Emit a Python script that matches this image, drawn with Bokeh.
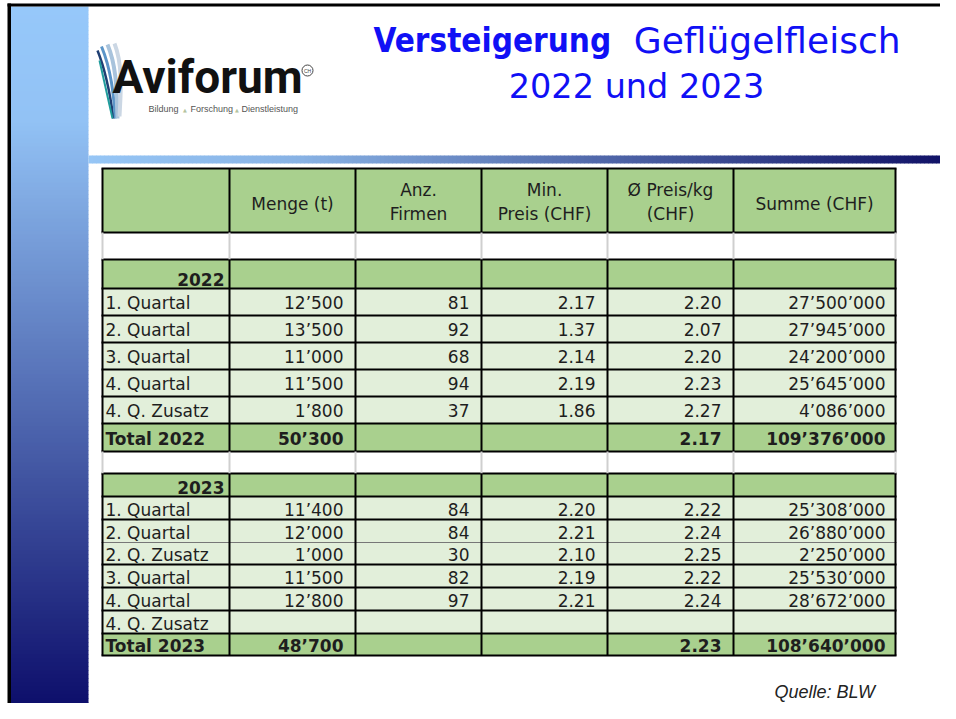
from bokeh.plotting import figure
from bokeh.models import Range1d, ColumnDataSource
from bokeh.embed import file_html
from bokeh.resources import INLINE
from bokeh.core.properties import value

# ---------------- data ----------------
title_bold = "Versteigerung"
title_rest = "Geflügelfleisch"
title_line2 = "2022 und 2023"
logo_name = "Aviforum"
logo_words = ["Bildung", "Forschung", "Dienstleistung"]
source_note = "Quelle: BLW"

col_headers = [[""], ["Menge (t)"], ["Anz.", "Firmen"], ["Min.", "Preis (CHF)"],
               ["Ø Preis/kg", "(CHF)"], ["Summe (CHF)"]]

year_2022 = "2022"
labels_2022 = ["1. Quartal", "2. Quartal", "3. Quartal", "4. Quartal", "4. Q. Zusatz"]
menge_2022 = [12500, 13500, 11000, 11500, 1800]
firmen_2022 = [81, 92, 68, 94, 37]
minpreis_2022 = [2.17, 1.37, 2.14, 2.19, 1.86]
preis_2022 = [2.20, 2.07, 2.20, 2.23, 2.27]
summe_2022 = [27500000, 27945000, 24200000, 25645000, 4086000]
total_label_2022 = "Total 2022"
total_menge_2022 = 50300
total_preis_2022 = 2.17
total_summe_2022 = 109376000

year_2023 = "2023"
labels_2023 = ["1. Quartal", "2. Quartal", "2. Q. Zusatz", "3. Quartal", "4. Quartal", "4. Q. Zusatz"]
menge_2023 = [11400, 12000, 1000, 11500, 12800, None]
firmen_2023 = [84, 84, 30, 82, 97, None]
minpreis_2023 = [2.20, 2.21, 2.10, 2.19, 2.21, None]
preis_2023 = [2.22, 2.24, 2.25, 2.22, 2.24, None]
summe_2023 = [25308000, 26880000, 2250000, 25530000, 28672000, None]
total_label_2023 = "Total 2023"
total_menge_2023 = 48700
total_preis_2023 = 2.23
total_summe_2023 = 108640000

# ---------------- layout (pixel space of the slide) ----------------
COL_X = [102, 229, 355, 481, 607, 733, 895]
HEADER = (168, 232)
BLANK1 = (232, 259)
Y22_HEAD = (259, 288)
ROWS22 = [288, 315, 342, 369, 396, 423, 451]
BLANK2 = (451, 473)
Y23_HEAD = (473, 496)
ROWS23 = [496, 519, 542, 564, 587, 610, 633, 655]

GREEN = "#A9D08E"
LIGHT = "#E2EFDA"
TXT = "#1e1e1e"
BLUE = "#1010F5"
FONT = value("DejaVu Sans")


def fint(v):
    return "" if v is None else f"{v:,}".replace(",", "\u2019")


def fdec(v):
    return "" if v is None else f"{v:.2f}"


p = figure(width=940, height=703, x_range=Range1d(0, 940), y_range=Range1d(703, 0),
           output_backend="svg", toolbar_location=None,
           x_axis_location=None, y_axis_location=None, min_border=0)
p.grid.visible = False
p.outline_line_color = None
p.background_fill_color = "white"
p.border_fill_color = "white"


def lerp(stops, t):
    for (t0, c0), (t1, c1) in zip(stops, stops[1:]):
        if t <= t1:
            f = 0 if t1 == t0 else max(0.0, (t - t0) / (t1 - t0))
            c = [round(a + (b - a) * f) for a, b in zip(c0, c1)]
            return "#%02x%02x%02x" % tuple(c)
    return "#%02x%02x%02x" % tuple(stops[-1][1])


# left sidebar gradient
side_stops = [(6, (150, 200, 250)), (120, (146, 194, 245)), (719, (10, 10, 104))]
sy = list(range(6, 704, 4))
p.quad(left=10, right=88, top=sy, bottom=[y + 4.5 for y in sy],
       fill_color=[lerp(side_stops, y + 2) for y in sy], line_color=None)
p.quad(left=7, right=10.5, top=3, bottom=703, fill_color="black", line_color=None)
p.quad(left=7, right=940, top=3, bottom=6, fill_color="black", line_color=None)

# horizontal bar gradient
bar_stops = [(88, (150, 198, 246)), (300, (136, 178, 228)), (956, (14, 14, 100))]
bx = list(range(88, 940, 4))
p.quad(left=bx, right=[x + 4.5 for x in bx], top=155, bottom=163,
       fill_color=[lerp(bar_stops, x + 2) for x in bx], line_color=None)

# ---------------- logo ----------------
p.bezier(x0=[97, 101, 107, 114, 99], y0=[50, 46, 44, 43, 60],
         x1=[113, 115, 117, 119, 112], y1=[118, 118, 118, 116, 118],
         cx0=[106, 111, 117, 123, 104], cy0=[72, 70, 68, 66, 82],
         cx1=[110, 113, 116, 120, 108], cy1=[96, 95, 95, 95, 100],
         line_color=["#1f3f73", "#5b95c8", "#a8c3dc", "#cbd7e4", "#1f9c9c"],
         line_width=[2.5, 3, 4, 4, 2])
p.text(x=[112], y=[76], text=[logo_name], text_font=value("Roboto"),
       text_font_style="bold", text_font_size="46px", text_color="#111111",
       text_baseline="middle", text_align="left")
p.scatter(x=[307], y=[70], size=11, marker="circle", fill_color=None,
          line_color="#444444", line_width=1)
p.text(x=[307], y=[70], text=["CH"], text_font=value("Liberation Sans"),
       text_font_size="5px", text_color="#444444", text_align="center", text_baseline="middle")
p.text(x=[148, 190, 241], y=[108.5, 108.5, 108.5], text=logo_words,
       text_font=value("Liberation Sans"), text_font_size="9px",
       text_color="#555555", text_baseline="middle")
p.text(x=[184.5, 236.5], y=[109, 109], text=["\u25B2", "\u25B2"], text_font=value("DejaVu Sans"),
       text_font_size="5px", text_color="#b5c4a0", text_align="center", text_baseline="middle")

# ---------------- title ----------------
p.text(x=[373], y=[40], text=[title_bold], text_font=value("DejaVu Sans Condensed"),
       text_font_style="bold", text_font_size="33px", text_color=BLUE,
       text_baseline="middle", text_align="left")
p.text(x=[900], y=[40], text=[title_rest], text_font=FONT, text_font_size="36px",
       text_color=BLUE, text_baseline="middle", text_align="right")
p.text(x=[636], y=[86], text=[title_line2], text_font=FONT, text_font_size="33.5px",
       text_color=BLUE, text_baseline="middle", text_align="center")

# ---------------- table fills ----------------
L, R = COL_X[0], COL_X[-1]
fill_top, fill_bot, fill_col = [], [], []


def band(t, b, c):
    fill_top.append(t)
    fill_bot.append(b)
    fill_col.append(c)


band(*HEADER, GREEN)
band(*BLANK1, "white")
band(*Y22_HEAD, GREEN)
for i in range(len(labels_2022)):
    band(ROWS22[i], ROWS22[i + 1], LIGHT)
band(ROWS22[-2], ROWS22[-1], GREEN)
band(*BLANK2, "white")
band(*Y23_HEAD, GREEN)
for i in range(len(labels_2023)):
    band(ROWS23[i], ROWS23[i + 1], LIGHT)
band(ROWS23[-2], ROWS23[-1], GREEN)
p.quad(left=L, right=R, top=fill_top, bottom=fill_bot, fill_color=fill_col, line_color=None)

# ---------------- table lines ----------------
hy = [HEADER[0], HEADER[1], Y22_HEAD[0]] + ROWS22 + [Y23_HEAD[0]] + ROWS23
hcol = ["black"] * len(hy)
hw = [2] * len(hy)
gi = hy.index(ROWS23[2])
hcol[gi] = "#777777"
hw[gi] = 1.2
p.segment(x0=L - 1, x1=R + 1, y0=hy, y1=hy, line_color=hcol, line_width=hw)
vx0, vy0, vy1, vcol = [], [], [], []
for x in COL_X:
    for (a, b), c in [(HEADER, "black"), (BLANK1, "#cfcfcf"), ((Y22_HEAD[0], ROWS22[-1]), "black"),
                      (BLANK2, "#cfcfcf"), ((Y23_HEAD[0], ROWS23[-1]), "black")]:
        vx0.append(x)
        vy0.append(a)
        vy1.append(b)
        vcol.append(c)
p.segment(x0=vx0, x1=vx0, y0=vy0, y1=vy1, line_color=vcol, line_width=2)

# ---------------- table texts ----------------
reg = dict(x=[], y=[], text=[], align=[])
bold = dict(x=[], y=[], text=[], align=[])


def put(d, x, y, t, a):
    d["x"].append(x)
    d["y"].append(y)
    d["text"].append(t)
    d["align"].append(a)


# header
for i, lines in enumerate(col_headers):
    cx = (COL_X[i] + COL_X[i + 1]) / 2
    if len(lines) == 1:
        put(reg, cx, 203, lines[0], "center")
    else:
        put(reg, cx, 189, lines[0], "center")
        put(reg, cx, 213, lines[1], "center")

RX = [COL_X[i + 1] - 12 for i in range(1, 6)]
RX[-1] = COL_X[-1] - 10


def section(year, head, edges, labels, cols, total, pad):
    put(bold, COL_X[1] - 5, head[1] - 9, year, "right")
    for r, lab in enumerate(labels):
        yc = edges[r + 1] - pad
        put(reg, 105, yc, lab, "left")
        for c in range(5):
            put(reg, RX[c], yc, cols[c][r], "right")
    yc = edges[-1] - pad
    put(bold, 105, yc, total[0], "left")
    for c, v in zip([0, 3, 4], total[1:]):
        put(bold, RX[c], yc, v, "right")


section(year_2022, Y22_HEAD, ROWS22, labels_2022,
        [[fint(v) for v in menge_2022], [fint(v) for v in firmen_2022],
         [fdec(v) for v in minpreis_2022], [fdec(v) for v in preis_2022],
         [fint(v) for v in summe_2022]],
        [total_label_2022, fint(total_menge_2022), fdec(total_preis_2022), fint(total_summe_2022)], 13)
section(year_2023, Y23_HEAD, ROWS23, labels_2023,
        [[fint(v) for v in menge_2023], [fint(v) for v in firmen_2023],
         [fdec(v) for v in minpreis_2023], [fdec(v) for v in preis_2023],
         [fint(v) for v in summe_2023]],
        [total_label_2023, fint(total_menge_2023), fdec(total_preis_2023), fint(total_summe_2023)], 10)

p.text(x="x", y="y", text="text", text_align="align", source=ColumnDataSource(reg),
       text_font=FONT, text_font_size="17px", text_color=TXT, text_baseline="middle")
p.text(x="x", y="y", text="text", text_align="align", source=ColumnDataSource(bold),
       text_font=FONT, text_font_style="bold", text_font_size="17px", text_color=TXT,
       text_baseline="middle")

# source note
p.text(x=[774], y=[691], text=[source_note], text_font=value("Liberation Sans"),
       text_font_style="italic", text_font_size="18px", text_color="#222222",
       text_baseline="middle", text_align="left")

open("out.html", "w").write(file_html(p, INLINE))
